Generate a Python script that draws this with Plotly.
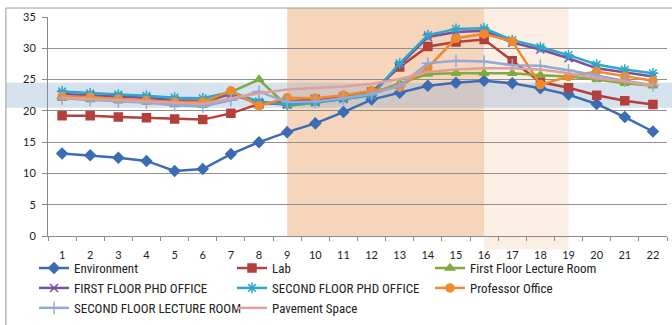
import plotly.graph_objects as go

# Hours of the monitoring day
hours = list(range(1, 23))
hour_labels = [str(h) for h in hours]

# Temperature readings (°C)
environment = [13.2, 12.9, 12.5, 12.0, 10.4, 10.7, 13.1, 15.0, 16.6, 18.0, 19.8,
               21.8, 22.9, 24.0, 24.5, 24.8, 24.4, 23.6, 22.6, 21.1, 19.0, 16.7]
lab = [19.2, 19.2, 19.0, 18.9, 18.7, 18.6, 19.6, 21.1, 21.5, 21.8, 22.2,
       23.0, 27.0, 30.3, 31.0, 31.4, 28.0, 24.6, 23.7, 22.5, 21.6, 21.0]
first_lecture = [22.0, 21.8, 21.6, 21.4, 21.0, 20.9, 23.0, 25.0, 20.8, 21.3, 22.0,
                 22.8, 24.4, 25.9, 26.0, 26.0, 26.0, 25.7, 25.5, 25.0, 24.4, 24.0]
first_phd = [22.7, 22.5, 22.3, 22.1, 21.7, 21.6, 22.6, 21.3, 21.0, 21.4, 21.9,
             22.6, 27.3, 31.8, 32.6, 32.8, 30.9, 29.8, 28.4, 26.8, 26.1, 25.5]
second_phd = [23.1, 22.8, 22.6, 22.4, 22.1, 22.0, 23.0, 21.5, 21.0, 21.3, 21.9,
              22.5, 27.6, 32.1, 33.1, 33.2, 31.3, 30.2, 28.9, 27.4, 26.6, 26.0]
professor = [22.3, 22.2, 21.9, 21.7, 21.4, 21.4, 23.2, 20.8, 22.1, 22.0, 22.5,
             23.2, 23.8, 26.9, 31.6, 32.3, 31.1, 24.2, 25.5, 26.3, 25.5, 24.8]
second_lecture = [22.0, 21.8, 21.5, 21.3, 20.9, 20.7, 21.7, 23.1, 21.4, 21.5, 22.0,
                  22.7, 24.0, 27.6, 28.0, 27.9, 27.3, 27.2, 26.5, 25.6, 24.8, 24.1]
pavement = [22.1, 21.9, 21.7, 21.5, 21.2, 21.1, 22.0, 22.8, 23.4, 23.6, 23.9,
            24.3, 25.1, 26.2, 26.6, 26.8, 26.8, 26.6, 26.0, 25.2, 24.7, 24.0]

# Comfort band and occupied-period shading
comfort_low, comfort_high = 20.5, 24.5
peak_start, peak_end, late_end = 9, 16, 19

series = [
    ("Environment", environment, "#3b6cb4", "diamond", 8),
    ("Lab", lab, "#b3403d", "square", 8),
    ("First Floor Lecture Room", first_lecture, "#7fab3c", "triangle-up", 8),
    ("FIRST FLOOR PHD OFFICE", first_phd, "#7a4f9e", "x-thin-open", 8),
    ("SECOND FLOOR PHD OFFICE", second_phd, "#2ea7c9", "asterisk-open", 9),
    ("Professor Office", professor, "#f08a2c", "circle", 8),
    ("SECOND FLOOR LECTURE ROOM", second_lecture, "#92a9db", "cross-thin-open", 9),
    ("Pavement Space", pavement, "#e0a09a", None, 0),
]

font_family = "Roboto Condensed, Liberation Sans Narrow, Lato, sans-serif"
tick_family = "Lato, Roboto, sans-serif"

fig = go.Figure()
for name, vals, color, sym, size in series:
    if sym is None:
        fig.add_trace(go.Scatter(x=hours, y=vals, name=name, mode="lines",
                                 line=dict(color=color, width=2.5)))
    else:
        fig.add_trace(go.Scatter(
            x=hours, y=vals, name=name, mode="lines+markers",
            line=dict(color=color, width=2.5),
            marker=dict(symbol=sym, size=size, color=color,
                        line=dict(color=color, width=1.5))))

shapes = [
    # dark peach: hours 9-16
    dict(type="rect", xref="x", yref="paper", x0=peak_start, x1=peak_end,
         y0=0, y1=1.041, fillcolor="#f5d6bd", line=dict(width=0), layer="below"),
    # light peach: hours 16-19
    dict(type="rect", xref="x", yref="paper", x0=peak_end, x1=late_end,
         y0=-0.06, y1=1.041, fillcolor="#fbeee2", line=dict(width=0), layer="below"),
    # comfort band
    dict(type="rect", xref="paper", yref="y", x0=-0.068, x1=1.02,
         y0=comfort_low, y1=comfort_high, fillcolor="rgba(150,178,212,0.38)",
         line=dict(width=0), layer="below"),
    # chart frame (left and top edges)
    dict(type="line", xref="paper", yref="paper", x0=-0.068, x1=-0.068,
         y0=-0.5, y1=1.041, line=dict(color="#9a9a9a", width=1)),
    dict(type="line", xref="paper", yref="paper", x0=-0.068, x1=1.02,
         y0=1.041, y1=1.041, line=dict(color="#9a9a9a", width=1)),
]

fig.update_layout(
    width=672, height=325,
    margin=dict(l=48, r=5, t=17, b=89, autoexpand=False),
    paper_bgcolor="white", plot_bgcolor="rgba(0,0,0,0)",
    font=dict(family=font_family, size=12, color="#222222"),
    shapes=shapes,
    showlegend=True,
    legend=dict(orientation="h", x=-0.0226, y=-0.078, xanchor="left", yanchor="top",
                entrywidth=153, entrywidthmode="pixels",
                font=dict(family=font_family, size=13, color="#222222"),
                bgcolor="rgba(0,0,0,0)", itemclick=False, traceorder="normal"),
)
fig.update_xaxes(
    range=[0.5, 22.5], tickmode="array", tickvals=hours, ticktext=hour_labels,
    ticks="", showgrid=False, zeroline=False,
    showline=True, linecolor="#8a8a8a", linewidth=1,
    ticklabelstandoff=9,
    tickfont=dict(family=tick_family, size=11, color="#222222"),
    minor=dict(tickmode="array", tickvals=[h + 0.5 for h in range(0, 23)],
               ticks="outside", ticklen=4, tickcolor="#8a8a8a", showgrid=False),
)
fig.update_yaxes(
    range=[0, 35], tickmode="array", tickvals=[0, 5, 10, 15, 20, 25, 30, 35],
    ticks="outside", ticklen=5, tickcolor="#8a8a8a",
    showgrid=True, gridcolor="#8f8f8f", gridwidth=1, zeroline=False,
    showline=True, linecolor="#8a8a8a", linewidth=1,
    ticklabelstandoff=4,
    tickfont=dict(family=tick_family, size=11, color="#222222"),
)

fig.write_html("out.html")
